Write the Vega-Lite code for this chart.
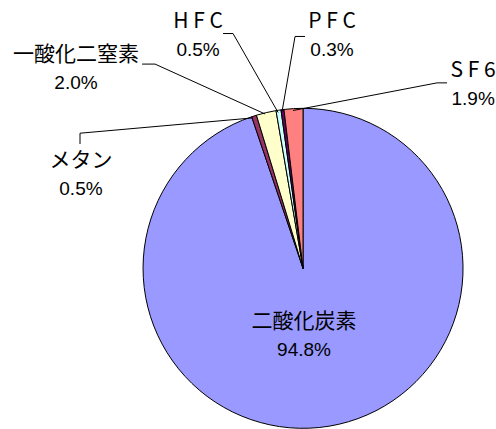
{
  "$schema": "https://vega.github.io/schema/vega-lite/v6.json",
  "width": 496,
  "height": 429,
  "autosize": {"type": "fit", "contains": "padding"},
  "padding": 0,
  "background": "white",
  "config": {"view": {"stroke": null}},
  "datasets": {
    "slices": [
      {"idx": 1, "gas": "二酸化炭素", "share": 0.948},
      {"idx": 2, "gas": "メタン", "share": 0.005},
      {"idx": 3, "gas": "一酸化二窒素", "share": 0.020},
      {"idx": 4, "gas": "H F C", "share": 0.005},
      {"idx": 5, "gas": "P F C", "share": 0.003},
      {"idx": 6, "gas": "S F 6", "share": 0.019}
    ],
    "labels": [
      {"gas": "二酸化炭素", "share": 0.948, "u": 0.006, "v": -0.428},
      {"gas": "メタン", "share": 0.005, "u": -1.388, "v": 0.591},
      {"gas": "一酸化二窒素", "share": 0.020, "u": -1.419, "v": 1.263},
      {"gas": "H F C", "share": 0.005, "u": -0.656, "v": 1.475},
      {"gas": "P F C", "share": 0.003, "u": 0.181, "v": 1.475},
      {"gas": "S F 6", "share": 0.019, "u": 1.063, "v": 1.163}
    ],
    "leaders": [
      {"gas": "メタン", "seq": 1, "u": -1.394, "v": 0.7875},
      {"gas": "メタン", "seq": 2, "u": -1.394, "v": 0.856},
      {"gas": "メタン", "seq": 3, "u": -0.3125, "v": 0.953},
      {"gas": "一酸化二窒素", "seq": 1, "u": -1.006, "v": 1.294},
      {"gas": "一酸化二窒素", "seq": 2, "u": -0.925, "v": 1.294},
      {"gas": "一酸化二窒素", "seq": 3, "u": -0.2375, "v": 0.978},
      {"gas": "H F C", "seq": 1, "u": -0.5, "v": 1.4875},
      {"gas": "H F C", "seq": 2, "u": -0.4375, "v": 1.4875},
      {"gas": "H F C", "seq": 3, "u": -0.156, "v": 0.9875},
      {"gas": "P F C", "seq": 1, "u": 0.0125, "v": 1.469},
      {"gas": "P F C", "seq": 2, "u": -0.05, "v": 1.469},
      {"gas": "P F C", "seq": 3, "u": -0.131, "v": 0.994},
      {"gas": "S F 6", "seq": 1, "u": -0.0625, "v": 1.0},
      {"gas": "S F 6", "seq": 2, "u": 0.8375, "v": 1.175},
      {"gas": "S F 6", "seq": 3, "u": 0.9, "v": 1.175}
    ]
  },
  "layer": [
    {
      "data": {"name": "slices"},
      "mark": {"type": "arc", "outerRadius": 160, "stroke": "black", "strokeWidth": 1},
      "encoding": {
        "theta": {"field": "share", "type": "quantitative", "stack": true},
        "order": {"field": "idx", "type": "quantitative"},
        "color": {
          "field": "gas",
          "type": "nominal",
          "legend": null,
          "scale": {
            "domain": ["二酸化炭素", "メタン", "一酸化二窒素", "H F C", "P F C", "S F 6"],
            "range": ["#9999FF", "#993366", "#FFFFCC", "#CCFFFF", "#660066", "#FF8080"]
          }
        },
        "x": {"datum": 0, "type": "quantitative", "axis": null, "scale": {"domain": [-1.894, 1.206], "nice": false, "zero": false}},
        "y": {"datum": 0, "type": "quantitative", "axis": null, "scale": {"domain": [-0.98, 1.7], "nice": false, "zero": false}}
      }
    },
    {
      "data": {"name": "leaders"},
      "mark": {"type": "line", "color": "black", "strokeWidth": 1},
      "encoding": {
        "x": {"field": "u", "type": "quantitative", "axis": null, "scale": {"domain": [-1.894, 1.206], "nice": false, "zero": false}},
        "y": {"field": "v", "type": "quantitative", "axis": null, "scale": {"domain": [-0.98, 1.7], "nice": false, "zero": false}},
        "detail": {"field": "gas", "type": "nominal"},
        "order": {"field": "seq", "type": "quantitative"}
      }
    },
    {
      "data": {"name": "labels"},
      "mark": {
        "type": "text",
        "font": "'Noto Sans CJK JP', sans-serif",
        "fontSize": 21,
        "align": "center",
        "baseline": "middle",
        "dy": -14,
        "color": "black"
      },
      "encoding": {
        "x": {"field": "u", "type": "quantitative", "axis": null, "scale": {"domain": [-1.894, 1.206], "nice": false, "zero": false}},
        "y": {"field": "v", "type": "quantitative", "axis": null, "scale": {"domain": [-0.98, 1.7], "nice": false, "zero": false}},
        "text": {"field": "gas", "type": "nominal"}
      }
    },
    {
      "data": {"name": "labels"},
      "mark": {
        "type": "text",
        "font": "'Liberation Sans', Arial, sans-serif",
        "fontSize": 19,
        "align": "center",
        "baseline": "middle",
        "dy": 14,
        "color": "black"
      },
      "encoding": {
        "x": {"field": "u", "type": "quantitative", "axis": null, "scale": {"domain": [-1.894, 1.206], "nice": false, "zero": false}},
        "y": {"field": "v", "type": "quantitative", "axis": null, "scale": {"domain": [-0.98, 1.7], "nice": false, "zero": false}},
        "text": {"field": "share", "type": "quantitative", "format": ".1%"}
      }
    }
  ]
}
